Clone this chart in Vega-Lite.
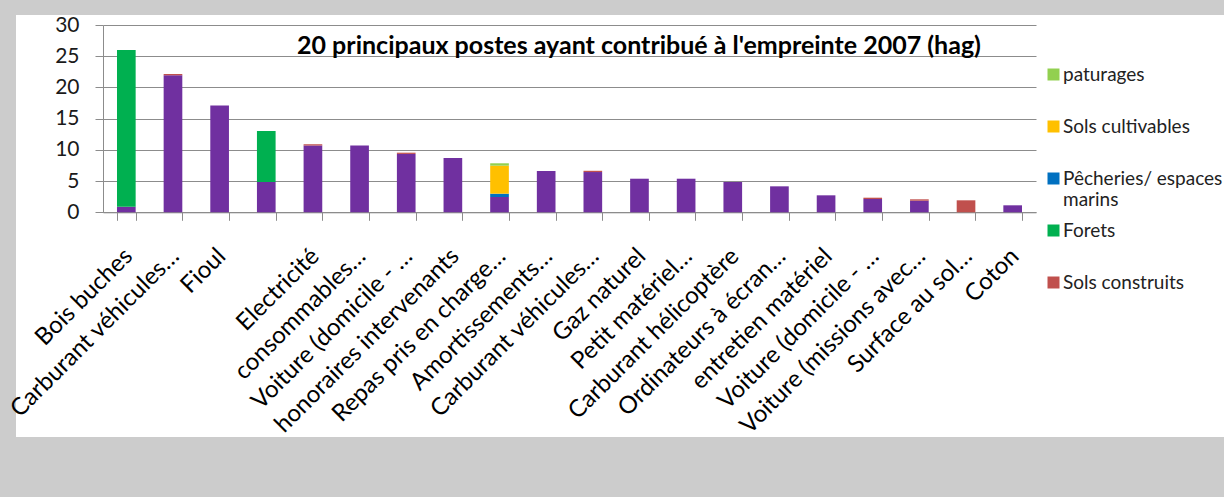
{
  "$schema": "https://vega.github.io/schema/vega-lite/v6.json",
  "width": 1208,
  "height": 422,
  "autosize": {"type": "none"},
  "padding": {"left": 16, "top": 15, "right": 0, "bottom": 60},
  "background": "#cccccc",
  "config": {
    "view": {"fill": "white", "stroke": null},
    "font": "Lato"
  },
  "title": {
    "text": "20 principaux postes ayant contribué à l'empreinte 2007 (hag)",
    "anchor": "middle",
    "frame": "group",
    "fontSize": 25,
    "fontWeight": "bold",
    "color": "black",
    "baseline": "middle",
    "offset": 0,
    "dy": 57,
    "dx": 19
  },
  "data": {
    "values": [
      {"poste": "Bois buches", "type": "Energie", "rang": 1, "hag": 0.9},
      {"poste": "Bois buches", "type": "Forets", "rang": 3, "hag": 25.1},
      {"poste": "Carburant véhicules…", "type": "Energie", "rang": 1, "hag": 21.95},
      {"poste": "Carburant véhicules…", "type": "Sols construits", "rang": 2, "hag": 0.2},
      {"poste": "Fioul", "type": "Energie", "rang": 1, "hag": 17.1},
      {"poste": " ", "type": "Energie", "rang": 1, "hag": 4.85},
      {"poste": " ", "type": "Forets", "rang": 3, "hag": 8.17},
      {"poste": "Electricité", "type": "Energie", "rang": 1, "hag": 10.7},
      {"poste": "Electricité", "type": "Sols construits", "rang": 2, "hag": 0.2},
      {"poste": "consommables…", "type": "Energie", "rang": 1, "hag": 10.7},
      {"poste": "Voiture (domicile - …", "type": "Energie", "rang": 1, "hag": 9.35},
      {"poste": "Voiture (domicile - …", "type": "Sols construits", "rang": 2, "hag": 0.2},
      {"poste": "honoraires intervenants", "type": "Energie", "rang": 1, "hag": 8.7},
      {"poste": "Repas pris en charge…", "type": "Energie", "rang": 1, "hag": 2.45},
      {"poste": "Repas pris en charge…", "type": "Pêcheries/ espaces marins", "rang": 4, "hag": 0.53},
      {"poste": "Repas pris en charge…", "type": "Sols cultivables", "rang": 5, "hag": 4.49},
      {"poste": "Repas pris en charge…", "type": "paturages", "rang": 6, "hag": 0.38},
      {"poste": "Amortissements…", "type": "Energie", "rang": 1, "hag": 6.62},
      {"poste": "Carburant véhicules…\u200b", "type": "Energie", "rang": 1, "hag": 6.45},
      {"poste": "Carburant véhicules…\u200b", "type": "Sols construits", "rang": 2, "hag": 0.2},
      {"poste": "Gaz naturel", "type": "Energie", "rang": 1, "hag": 5.38},
      {"poste": "Petit matériel…", "type": "Energie", "rang": 1, "hag": 5.38},
      {"poste": "Carburant hélicoptère", "type": "Energie", "rang": 1, "hag": 4.85},
      {"poste": "Ordinateurs à écran…", "type": "Energie", "rang": 1, "hag": 4.16},
      {"poste": "entretien matériel", "type": "Energie", "rang": 1, "hag": 2.72},
      {"poste": "Voiture (domicile - …\u200b", "type": "Energie", "rang": 1, "hag": 2.13},
      {"poste": "Voiture (domicile - …\u200b", "type": "Sols construits", "rang": 2, "hag": 0.21},
      {"poste": "Voiture (missions avec…", "type": "Energie", "rang": 1, "hag": 1.86},
      {"poste": "Voiture (missions avec…", "type": "Sols construits", "rang": 2, "hag": 0.22},
      {"poste": "Surface au sol…", "type": "Sols construits", "rang": 2, "hag": 1.92},
      {"poste": "Coton", "type": "Energie", "rang": 1, "hag": 1.12}
    ]
  },
  "mark": {"type": "bar"},
  "encoding": {
    "x": {
      "field": "poste",
      "type": "nominal",
      "sort": null,
      "scale": {"range": [87, 1020], "paddingInner": 0.6, "paddingOuter": 0.3},
      "axis": {
        "orient": "bottom",
        "offset": -224.7,
        "title": null,
        "grid": false,
        "tickBand": "extent",
        "ticks": true,
        "tickSize": 8,
        "tickColor": "#8c8c8c",
        "domainColor": "#8c8c8c",
        "labelAngle": -45,
        "labelAlign": "right",
        "labelBaseline": "middle",
        "labelPadding": 32,
        "labelOffset": 2,
        "labelFontSize": 24,
        "labelColor": "#000000",
        "labelLimit": 400,
        "labelOverlap": false
      }
    },
    "y": {
      "field": "hag",
      "type": "quantitative",
      "stack": "zero",
      "scale": {"domain": [0, 30], "range": [197.3, 10], "nice": false},
      "axis": {
        "orient": "left",
        "offset": -87,
        "title": null,
        "values": [0, 5, 10, 15, 20, 25, 30],
        "grid": true,
        "gridColor": "#8c8c8c",
        "domainColor": "#8c8c8c",
        "tickColor": "#8c8c8c",
        "tickSize": 8,
        "labelFontSize": 21,
        "labelColor": "#1a1a1a",
        "labelPadding": 16
      }
    },
    "color": {
      "field": "type",
      "type": "nominal",
      "scale": {
        "domain": ["paturages", "Sols cultivables", "Pêcheries/ espaces marins", "Forets", "Sols construits", "Energie"],
        "range": ["#92D050", "#FFC000", "#0070C0", "#00B050", "#C0504D", "#7030A0"]
      },
      "legend": {
        "title": null,
        "orient": "none",
        "legendX": 1028,
        "legendY": 50,
        "padding": 0,
        "values": ["paturages", "Sols cultivables", "Pêcheries/ espaces marins", "Forets", "Sols construits"],
        "symbolType": "square",
        "symbolSize": 144,
        "symbolStrokeWidth": 0,
        "labelFontSize": 19,
        "labelColor": "#222222",
        "labelOffset": 0,
        "rowPadding": 11,
        "labelExpr": "datum.label == 'Pêcheries/ espaces marins' ? ['Pêcheries/ espaces', 'marins'] : [datum.label, '']"
      }
    },
    "order": {"field": "rang", "type": "quantitative"}
  }
}
